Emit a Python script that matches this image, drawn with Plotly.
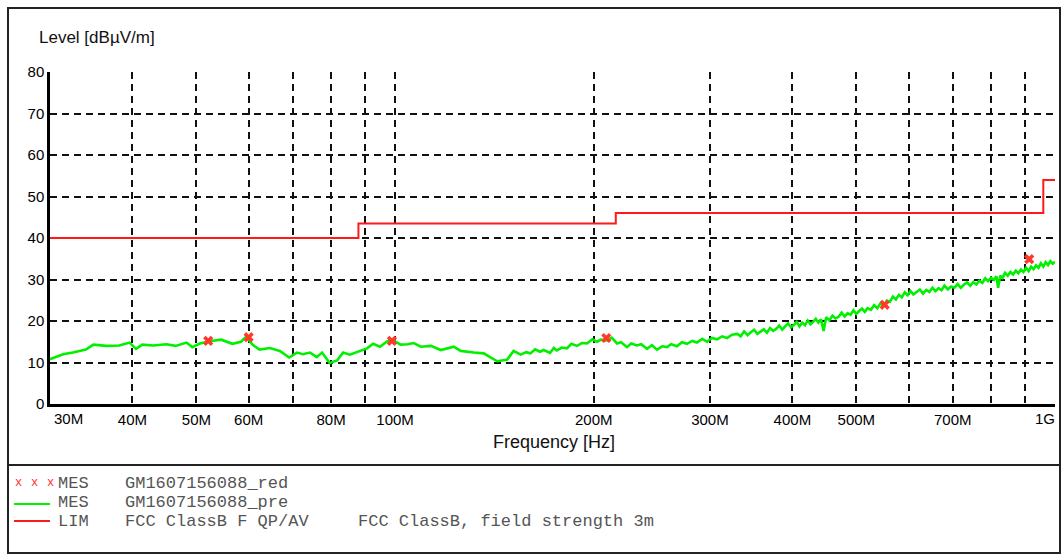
import plotly.graph_objects as go

# ---- data (frequency in MHz, level in dBuV/m) ----
freq_mhz = [30, 31.4, 32.5, 33.3, 34.0, 34.9, 36.5, 38.2, 39.6, 40.5, 41.4, 43.0, 45.0, 46.5,
            48.3, 49.3, 50.5, 52.3, 54.5, 56.7, 58.4, 59.5, 60.8, 62.3, 64.6, 66.9, 69.1,
            71.0, 72.5, 74.3, 76.1, 77.5, 79.6, 81.7, 83.4, 85.4, 88.5, 90.7, 92.6, 94.9,
            97.3, 99.5, 101.9, 104.5, 106.7, 109.4, 113.3, 117.3, 122.7, 125.7, 131.6,
            136.3, 139.7, 142.9, 147.9, 151.2, 155, 158, 160.4, 163, 165.8, 168, 171.7,
            174, 175.8, 179, 182.2, 185, 188.7, 192, 195.4, 199, 202.3, 205, 209.5, 213,
            216.9, 220, 224.6, 228, 232.6, 236, 240.9, 245, 249.4, 254, 258.3, 262, 267.4,
            272, 276.9, 282, 286.7, 292, 297, 302, 307.5, 313, 318.4, 324,
            330, 334, 338, 342, 346, 350, 354, 358, 362, 366, 370, 374, 378, 382, 386, 390,
            394, 398, 402, 406, 410, 414, 418, 422, 426, 430, 434, 438, 442, 446, 450, 455,
            460, 465, 470, 475, 480, 485, 490, 495, 500, 505, 510, 515, 520, 526, 532, 538,
            544, 550, 556, 562, 568, 574, 580, 586, 592, 598, 604, 610, 617, 624, 631, 638,
            645, 652, 659, 666, 673, 680, 688, 696, 704, 712, 720, 728, 736, 744, 752, 760,
            768, 776, 784, 792, 800, 808, 815, 820, 826, 833, 840, 848, 856, 864, 872, 880,
            888, 896, 904, 912, 920, 928, 936, 944, 952, 960, 968, 976, 984, 992, 1000]
level_db = [10.8, 12.0, 12.4, 12.7, 13.1, 14.3, 14.0, 14.1, 14.8, 13.3, 14.3, 14.1, 14.4, 14.0,
            14.8, 13.7, 14.5, 15.1, 15.5, 14.5, 15.0, 16.2, 14.3, 13.1, 13.5, 12.8, 11.2,
            12.4, 12.0, 12.4, 11.3, 12.4, 9.9, 10.5, 12.4, 11.9, 12.9, 13.4, 14.5, 13.8,
            15.1, 15.3, 14.3, 14.4, 14.7, 13.8, 14.0, 13.0, 13.8, 12.8, 12.4,
            12.2, 11.2, 10.3, 10.7, 12.8, 11.9, 12.5, 12.2, 13.2, 12.6, 13.0, 12.3,
            13.5, 12.9, 13.6, 13.4, 14.5, 14.0, 14.7, 14.6, 15.6, 15.0, 15.5, 15.3, 16.0,
            14.6, 14.9, 13.7, 14.6, 14.1, 14.4, 13.3, 14.2, 13.1, 13.9, 13.7, 14.4, 13.9,
            14.9, 14.5, 15.2, 14.8, 15.7, 15.0, 15.9, 15.6, 16.3, 15.9, 16.7,
            16.9, 16.3, 17.5, 16.6, 17.3, 17.9, 16.9, 17.5, 18.0, 17.2, 18.3, 17.6, 18.1, 18.9, 17.9, 18.7,
            19.4, 18.5, 19.0, 19.8, 18.7, 19.6, 19.0, 20.1, 19.2, 19.8, 20.5, 19.6, 20.4, 17.6, 20.9, 20.2,
            21.3, 20.6, 21.0, 22.0, 21.1, 21.9, 21.5, 22.6, 21.7, 22.4, 23.0, 22.2, 23.1, 22.7, 23.8, 23.1,
            24.3, 23.6, 24.9, 24.6, 25.9, 25.2, 26.3, 25.7, 26.9, 26.2, 27.2, 26.4, 26.9, 27.6, 26.6, 27.5,
            27.0, 28.0, 27.2, 27.9, 27.4, 28.5, 27.6, 28.3, 28.0, 28.9, 28.0, 28.8, 29.3, 28.5, 29.4, 28.8,
            29.7, 29.2, 30.3, 29.6, 30.4, 29.9, 30.8, 28.0, 30.9, 30.4, 31.6, 30.9, 31.8, 31.2, 32.1, 31.5,
            32.4, 31.8, 32.8, 32.0, 33.1, 32.5, 33.4, 32.8, 33.9, 33.1, 34.2, 33.5, 34.4, 33.8, 34.3]

mark_freq_mhz = [52.1, 60.0, 98.9, 209.0, 552.0, 914.0]
mark_level = [15.2, 16.1, 15.2, 15.9, 23.9, 34.9]

lim_freq_mhz = [30, 88, 88, 216, 216, 960, 960, 1000]
lim_level = [40, 40, 43.5, 43.5, 46, 46, 54, 54]

x_tick_mhz = [30, 40, 50, 60, 70, 80, 90, 100, 200, 300, 400, 500, 600, 700, 800, 900, 1000]
x_tick_text = ["", "40M", "50M", "60M", "", "80M", "", "100M", "200M", "300M", "400M",
               "500M", "", "700M", "", "", ""]
y_ticks = [0, 10, 20, 30, 40, 50, 60, 70, 80]

legend_rows = [
    ("MES", "GM1607156088_red", ""),
    ("MES", "GM1607156088_pre", ""),
    ("LIM", "FCC ClassB F QP/AV", "FCC ClassB, field strength 3m"),
]

# ---- figure ----
W, H = 1061, 554
L, R, T, B = 50, 6, 72, 150
pw, ph = W - L - R, H - T - B


def px(x):
    return (x - L) / pw


def py(y):
    return (H - B - y) / ph


hz = lambda v: [f * 1e6 for f in v]

fig = go.Figure()
fig.add_trace(go.Scatter(x=hz(lim_freq_mhz), y=lim_level, mode="lines",
                         line=dict(color="#ff1a1a", width=2), hoverinfo="skip"))
fig.add_trace(go.Scatter(x=hz(freq_mhz), y=level_db, mode="lines",
                         line=dict(color="#00f000", width=2.6), hoverinfo="skip"))
fig.add_trace(go.Scatter(x=hz(mark_freq_mhz), y=mark_level, mode="markers",
                         marker=dict(symbol="x", size=9, color="#ff3a2a",
                                     line=dict(width=0)), hoverinfo="skip"))

tick_font = dict(family="Liberation Sans, Arial, sans-serif", size=15, color="#000")

fig.update_xaxes(type="log", range=[7.4771, 9.0], tickvals=hz(x_tick_mhz),
                 ticktext=x_tick_text, showgrid=True, gridcolor="#111", griddash="7px,5px",
                 gridwidth=1.6, showline=True, linecolor="#000", linewidth=2.5,
                 zeroline=False, ticks="", tickfont=tick_font, automargin=False)
fig.update_yaxes(range=[0, 80], tickvals=y_ticks, showgrid=True, gridcolor="#111",
                 griddash="7px,5px", gridwidth=1.6, showline=True, linecolor="#000",
                 linewidth=2.5, zeroline=False, ticks="", tickfont=tick_font,
                 automargin=False)

ann = []
ann.append(dict(x=px(68), y=py(419), text="30M"))
ann.append(dict(x=px(1045), y=py(419), text="1G"))
for a in ann:
    a.update(xref="paper", yref="paper", showarrow=False, font=tick_font,
             xanchor="center", yanchor="middle")
ann.append(dict(x=px(554), y=py(442), xref="paper", yref="paper", showarrow=False,
                text="Frequency [Hz]", font=dict(family="Liberation Sans, Arial", size=18, color="#111"),
                xanchor="center", yanchor="middle"))
ann.append(dict(x=px(37), y=py(37), xref="paper", yref="paper", showarrow=False,
                text="Level [dBµV/m]", font=dict(family="Liberation Sans, Arial", size=17, color="#111"),
                xanchor="left", yanchor="middle"))

mono = dict(family="Liberation Mono, Courier New, monospace", size=17, color="#555")
row_y = [483, 502, 521]
leg = []
for (tag, name, desc), yy in zip(legend_rows, row_y):
    leg.append(dict(x=px(56), y=py(yy), text=tag, font=mono))
    leg.append(dict(x=px(123), y=py(yy), text=name, font=mono))
    if desc:
        leg.append(dict(x=px(356), y=py(yy), text=desc, font=mono))
for xx in (18, 34, 50):
    leg.append(dict(x=px(xx), y=py(483), text="x", xanchor="center",
                    font=dict(family="Liberation Mono", size=12, color="#ff3030")))
for a in leg:
    a.setdefault("xanchor", "left")
    a.update(xref="paper", yref="paper", showarrow=False, yanchor="middle")
ann += leg
fig.update_layout(annotations=ann)

shapes = [
    dict(type="rect", x0=px(8), x1=px(1060), y0=py(553), y1=py(8), line=dict(color="#222", width=2)),
    dict(type="line", x0=px(8), x1=px(1060), y0=py(465), y1=py(465), line=dict(color="#222", width=2)),
    dict(type="line", x0=px(14), x1=px(50), y0=py(504), y1=py(504), line=dict(color="#00f000", width=2)),
    dict(type="line", x0=px(14), x1=px(50), y0=py(521), y1=py(521), line=dict(color="#ff1a1a", width=2)),
]
for s in shapes:
    s.update(xref="paper", yref="paper")
fig.update_layout(shapes=shapes)

fig.update_layout(width=W, height=H, margin=dict(l=L, r=R, t=T, b=B),
                  paper_bgcolor="white", plot_bgcolor="white", showlegend=False)

fig.write_html("out.html", config={"displayModeBar": False},
               post_script="document.body.style.margin='0';document.body.style.overflow='hidden';")
